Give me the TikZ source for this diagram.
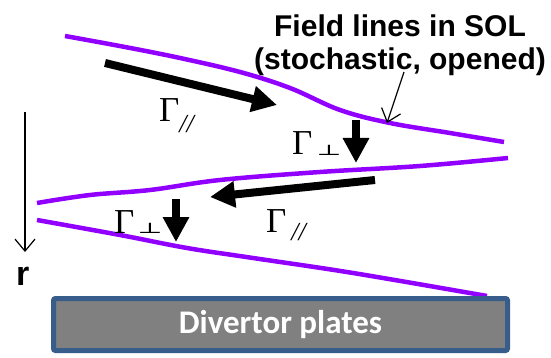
\documentclass[tikz,border=0pt]{standalone}
\usepackage{fontspec}
\setmainfont{Liberation Serif}
\newfontfamily\arialf{Liberation Sans}
\newfontfamily\calf{Carlito}
\newfontfamily\dejaf{DejaVu Serif}
\usetikzlibrary{arrows.meta}
\definecolor{fieldviolet}{RGB}{145,0,255}
\definecolor{plategray}{RGB}{128,128,128}
\definecolor{plateblue}{RGB}{56,93,138}
\newcommand{\parsub}{{\fontsize{26}{26}\selectfont\itshape //}}
\newcommand{\perpsub}{\scalebox{1}[0.55]{\dejaf\fontsize{27}{27}\selectfont ⊥}}
\begin{document}
\begin{tikzpicture}[x=1pt,y=-1pt,
  fieldline/.style={draw=fieldviolet, line width=4.5pt},
  fluxarrow/.style={draw=black, line width=8pt, -{Triangle[length=25pt,width=25pt]}},
  thinarrow/.style={draw=black, line width=1.2pt, -{Straight Barb[length=12pt,width=20pt]}},
  gam/.style={font=\fontsize{35}{35}\selectfont, inner sep=0pt, anchor=base west},
  titletxt/.style={font=\arialf\bfseries\fontsize{30}{30}\selectfont, inner sep=0pt, anchor=base},
  plate/.style={draw=plateblue, line width=5pt, fill=plategray, rounded corners=2pt,
    minimum width=454pt, minimum height=52pt, text=white,
    font=\calf\bfseries\fontsize{33}{33}\selectfont}
]
\useasboundingbox (0,0) rectangle (551,358);

% field lines
\draw[fieldline] plot[smooth, tension=0.6] coordinates
  {(65,36) (125,47) (180,58) (240,72) (290,88) (340,110) (390,123) (450,133) (504,142)};
\draw[fieldline] plot[smooth, tension=0.6] coordinates
  {(37,203) (90,195) (150,190) (220,180) (320,172) (420,166) (508,158)};
\draw[fieldline] plot[smooth, tension=0.6] coordinates
  {(37,220) (120,235) (187,248) (253,258) (353,273) (487,296)};

% divertor plates
\node[plate] (plate) at (280.5,324.5) {Divertor plates};

% title
\node[titletxt] (title1) at (400,37) {Field lines in SOL};
\node[titletxt] (title2) at (400,70) {(stochastic, opened)};
\coordinate (ptrstart) at (404,72);
\coordinate (ptrend) at (387,123);
\draw[thinarrow] (ptrstart) -- (ptrend);

% flux arrows
\coordinate (a1s) at (105,63);  \coordinate (a1e) at (277,105);
\coordinate (a2s) at (356,120); \coordinate (a2e) at (356,163);
\coordinate (a3s) at (375,180); \coordinate (a3e) at (210,197);
\coordinate (a4s) at (176,199); \coordinate (a4e) at (176,242);
\draw[fluxarrow] (a1s) -- (a1e);
\draw[fluxarrow] (a2s) -- (a2e);
\draw[fluxarrow] (a3s) -- (a3e);
\draw[fluxarrow] (a4s) -- (a4e);

% labels
\node[gam] (g1) at (159,122) {Γ\raisebox{-11pt}{\parsub}};
\node[gam] (g2) at (292,155) {Γ\hspace{4pt}\raisebox{-1pt}{\perpsub}};
\node[gam] (g3) at (114,233) {Γ\hspace{3pt}\raisebox{-1pt}{\perpsub}};
\node[gam] (g4) at (266,232) {Γ\hspace{5pt}\raisebox{-8pt}{\parsub}};

% r axis
\node[font=\arialf\bfseries\fontsize{34}{34}\selectfont, inner sep=0pt, anchor=base west] (rlab) at (16,285) {r};
\coordinate (rtop) at (25,112);
\coordinate (rtip) at (25,252);
\draw[thinarrow] (rtop) -- (rtip);
\end{tikzpicture}
\end{document}
